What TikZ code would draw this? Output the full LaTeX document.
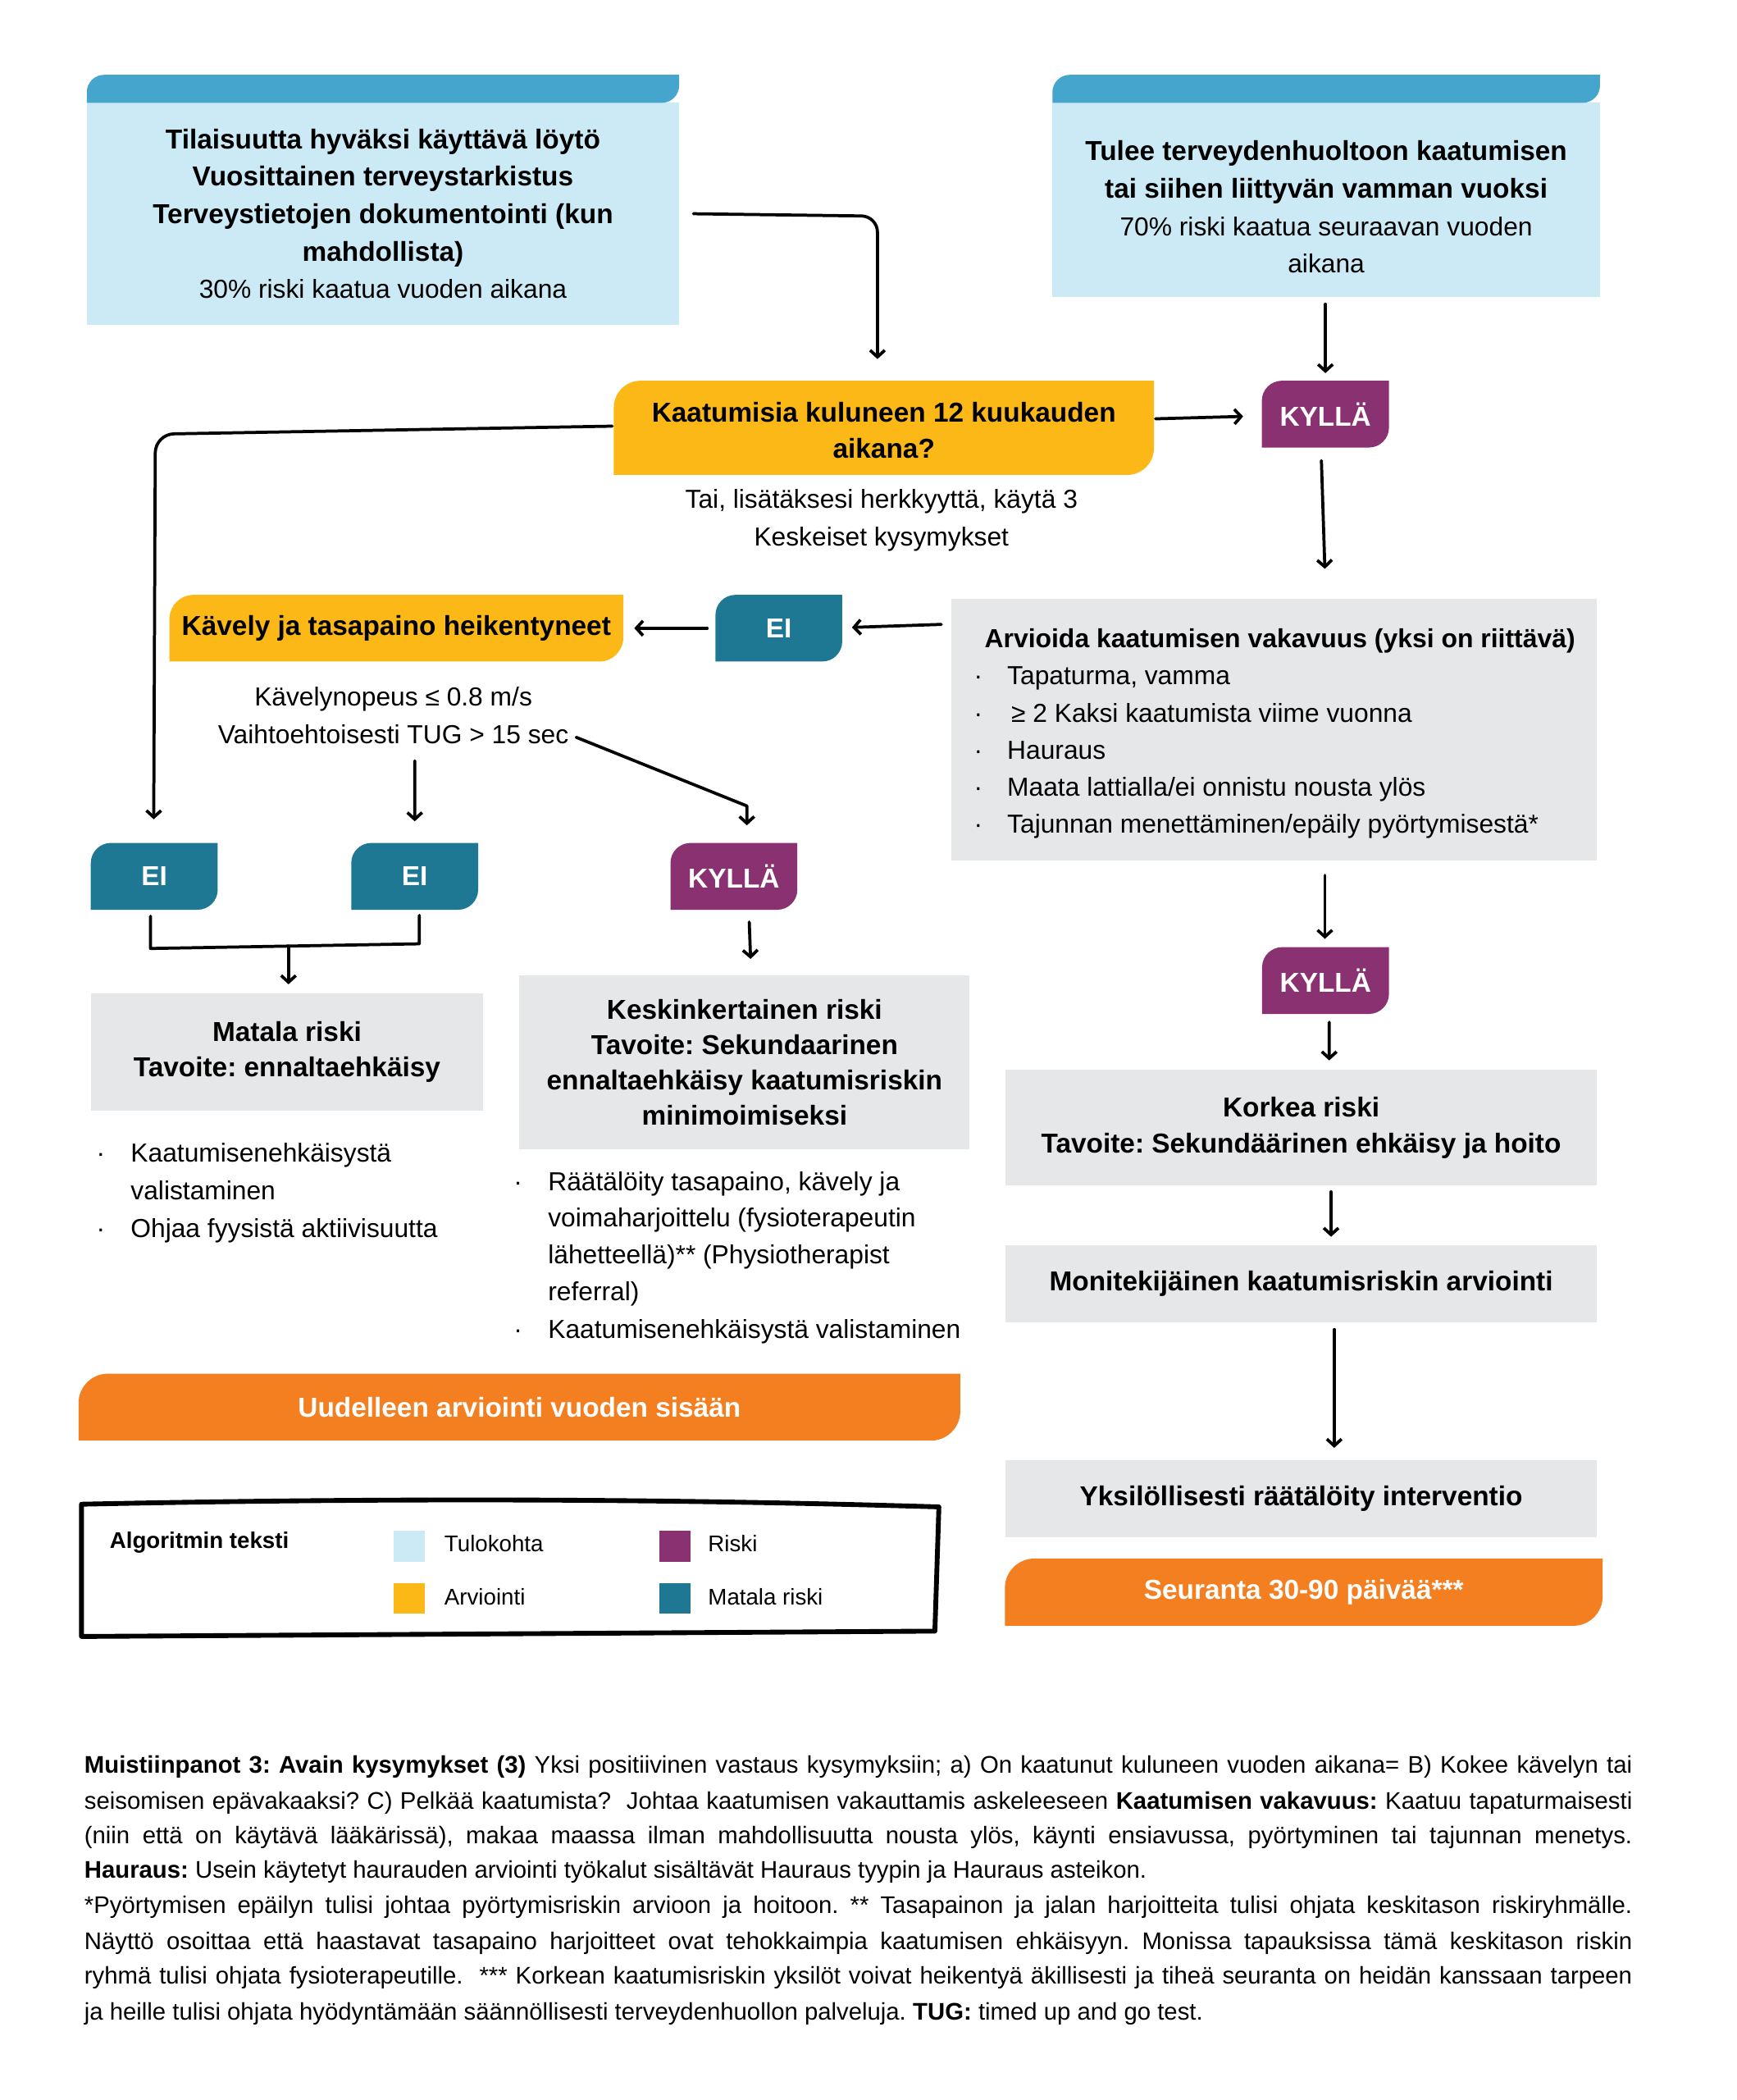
\documentclass[tikz,border=0pt]{standalone}
\usepackage{fontspec}
\setmainfont{Liberation Sans}
\usetikzlibrary{arrows.meta,calc}
\definecolor{tabblue}{HTML}{45A5CC}
\definecolor{lblue}{HTML}{CCEAF5}
\definecolor{ylw}{HTML}{FBB817}
\definecolor{purp}{HTML}{8A3271}
\definecolor{tealc}{HTML}{1F7893}
\definecolor{grayc}{HTML}{E6E7E8}
\definecolor{orng}{HTML}{F47F20}
\frenchspacing
% leaf shape: x1 y1(top) x2 y2(bottom) radius colour ; rounded top-left and bottom-right
\newcommand\leaf[6]{\fill[#6] (#1,#4) -- (#1,#2+#5) .. controls (#1,#2+0.448*#5) and (#1+0.448*#5,#2) .. (#1+#5,#2) -- (#3,#2) -- (#3,#4-#5) .. controls (#3,#4-0.448*#5) and (#3-0.448*#5,#4) .. (#3-#5,#4) -- cycle;}
\newcommand\fbx{\fontsize{20.5}{28}\selectfont\bfseries}
\newcommand\frx{\fontsize{19.5}{28}\selectfont\mdseries}
\newcommand\fnx{\fontsize{18}{26}\selectfont}
\newcommand\dotb{·}
\tikzset{
  arr/.style={line width=2.3pt, line cap=round, line join=round, -{Straight Barb[length=5pt,width=11pt]}},
  ln/.style={line width=2.3pt, line cap=round, line join=round},
  bx/.style={inner sep=0pt, align=center, text=black},
  item/.style={anchor=base west, inner sep=0pt, font=\frx},
  note/.style={anchor=base west, inner sep=0pt, font=\fnx},
  leg/.style={anchor=base west, inner sep=0pt, font=\fontsize{17}{20}\selectfont},
}
\begin{document}
\begin{tikzpicture}[x=1pt,y=-1pt]
\fill[white] (0,0) rectangle (1300,1572);
\useasboundingbox (0,0) rectangle (1300,1572);

% ---------- entry boxes ----------
\fill[lblue] (65,77) rectangle (508.5,243);
\leaf{65}{56}{508.5}{77}{13}{tabblue}
\node[bx, minimum width=443.5pt, minimum height=166pt, font=\fbx] (in1) at (286.75,160)
  {Tilaisuutta hyväksi käyttävä löytö\\Vuosittainen terveystarkistus\\Terveystietojen dokumentointi (kun\\mahdollista)\\\frx 30\% riski kaatua vuoden aikana};

\fill[lblue] (788,77) rectangle (1198,222.5);
\leaf{788}{56}{1198}{77}{13}{tabblue}
\node[bx, minimum width=410pt, minimum height=135pt, font=\fbx] (in2) at (993,155)
  {Tulee terveydenhuoltoon kaatumisen\\tai siihen liittyvän vamman vuoksi\\\frx 70\% riski kaatua seuraavan vuoden\\\frx aikana};

% ---------- question 1 ----------
\leaf{459.6}{285}{864}{355.5}{20}{ylw}
\node[bx, minimum width=404.4pt, minimum height=70.5pt, font=\fontsize{20.5}{27.2}\selectfont\bfseries] (q1) at (661.8,322) {Kaatumisia kuluneen 12 kuukauden\\aikana?};
\node[bx, font=\fontsize{19.5}{28.5}\selectfont] (cap1) at (660,389.5) {Tai, lisätäksesi herkkyyttä, käytä 3\\Keskeiset kysymykset};

\leaf{944.8}{285}{1040}{335}{15}{purp}
\node[bx, text=white, minimum width=95.2pt, minimum height=50pt, font=\fbx] (y1) at (992.4,310) {KYLLÄ};

% ---------- severity box ----------
\node[inner sep=0pt, fill=grayc, minimum width=483.5pt, minimum height=196.4pt] (sev) at (953.75,546.2) {};
\node[item, font=\fontsize{19.6}{28}\selectfont\bfseries] (sevt) at (737,485) {Arvioida kaatumisen vakavuus (yksi on riittävä)};
\node[item] (sb1) at (729,512.5) {\dotb};
\node[item] (si1) at (754,512.5) {Tapaturma, vamma};
\node[item] (sb2) at (729,540.5) {\dotb};
\node[item] (si2) at (757,540.5) {≥ 2 Kaksi kaatumista viime vuonna};
\node[item] (sb3) at (729,568) {\dotb};
\node[item] (si3) at (754,568) {Hauraus};
\node[item] (sb4) at (729,596) {\dotb};
\node[item] (si4) at (754,596) {Maata lattialla/ei onnistu nousta ylös};
\node[item] (sb5) at (729,623.5) {\dotb};
\node[item] (si5) at (754,623.5) {Tajunnan menettäminen/epäily pyörtymisestä*};

% ---------- EI and gait ----------
\leaf{535.7}{445.3}{630.6}{495.2}{15}{tealc}
\node[bx, text=white, minimum width=94.9pt, minimum height=49.9pt, font=\fbx] (e1) at (583.15,470.25) {EI};
\leaf{126.9}{445.3}{466.7}{495.2}{18}{ylw}
\node[bx, minimum width=339.8pt, minimum height=49.9pt, font=\fbx] (q2) at (296.8,470.25) {Kävely ja tasapaino heikentyneet};
\node[bx, font=\fontsize{19.5}{28}\selectfont] (cap2) at (294.5,535.5) {Kävelynopeus ≤ 0.8 m/s\\Vaihtoehtoisesti TUG > 15 sec};

\leaf{68}{631}{163}{681}{15}{tealc}
\node[bx, text=white, minimum width=95pt, minimum height=50pt, font=\fbx] (e2) at (115.5,656) {EI};
\leaf{263}{631}{358}{681}{15}{tealc}
\node[bx, text=white, minimum width=95pt, minimum height=50pt, font=\fbx] (e3) at (310.5,656) {EI};
\leaf{502}{631}{597}{681}{15}{purp}
\node[bx, text=white, minimum width=95pt, minimum height=50pt, font=\fbx] (y2) at (549.5,656) {KYLLÄ};

% ---------- risk boxes ----------
\node[bx, fill=grayc, minimum width=293.8pt, minimum height=88.1pt, font=\fontsize{20.5}{26.6}\selectfont\bfseries] (low) at (214.9,787.45) {Matala riski\\Tavoite: ennaltaehkäisy};
\node[bx, fill=grayc, minimum width=337pt, minimum height=130.5pt, font=\fontsize{20.5}{26.4}\selectfont\bfseries] (mid) at (557.5,795.25) {Keskinkertainen riski\\Tavoite: Sekundaarinen\\ennaltaehkäisy kaatumisriskin\\minimoimiseksi};

\node[item] (lb1) at (72,870) {\dotb};
\node[item] (li1) at (97.7,870) {Kaatumisenehkäisystä};
\node[item] (li1b) at (97.7,898) {valistaminen};
\node[item] (lb2) at (72,926) {\dotb};
\node[item] (li2) at (97.7,926) {Ohjaa fyysistä aktiivisuutta};

\node[item] (mb1) at (384.5,891) {\dotb};
\node[item] (mi1) at (410.2,891) {Räätälöity tasapaino, kävely ja};
\node[item] (mi1b) at (410.2,918.5) {voimaharjoittelu (fysioterapeutin};
\node[item] (mi1c) at (410.2,946) {lähetteellä)** (Physiotherapist};
\node[item] (mi1d) at (410.2,973.5) {referral)};
\node[item] (mb2) at (384.5,1002) {\dotb};
\node[item] (mi2) at (410.2,1002) {Kaatumisenehkäisystä valistaminen};

\leaf{58.8}{1028.3}{719}{1078.4}{22}{orng}
\node[bx, text=white, minimum width=660.2pt, minimum height=50.1pt, font=\fbx] (re) at (388.9,1053.35) {Uudelleen arviointi vuoden sisään};

% ---------- right column ----------
\leaf{945}{709}{1040}{759}{15}{purp}
\node[bx, text=white, minimum width=95pt, minimum height=50pt, font=\fbx] (y3) at (992.5,734) {KYLLÄ};
\node[bx, fill=grayc, minimum width=442.5pt, minimum height=86.7pt, font=\fontsize{20.5}{27}\selectfont\bfseries] (high) at (974.25,844.15) {Korkea riski\\Tavoite: Sekundäärinen ehkäisy ja hoito};
\node[bx, fill=grayc, minimum width=442.5pt, minimum height=58pt, font=\fbx] (multi) at (974.25,961) {Monitekijäinen kaatumisriskin arviointi};
\node[bx, fill=grayc, minimum width=442.5pt, minimum height=57.6pt, font=\fbx] (indiv) at (974.25,1121.8) {Yksilöllisesti räätälöity interventio};
\leaf{752.4}{1166.7}{1200}{1217}{22}{orng}
\node[bx, text=white, minimum width=447.6pt, minimum height=50.3pt, font=\fbx] (follow) at (976.2,1191.85) {Seuranta 30-90 päivää***};

% ---------- connectors ----------
\draw[arr, rounded corners=12pt] ([xshift=10.5pt]in1.east) -- (657,161.8) -- ([xshift=-4.8pt,yshift=17.8pt]q1.north);
\draw[arr] ([xshift=-0.6pt,yshift=-5pt]in2.south) -- ([yshift=5.5pt]y1.north);
\draw[arr] ([xshift=1pt,yshift=8.5pt]q1.east) -- ([xshift=-13.8pt,yshift=-1.7pt]y1.west);
\draw[arr] ([xshift=-3pt,yshift=-9.6pt]y1.south) -- ([xshift=38.25pt,yshift=22pt]sev.north);
\draw[arr] ([xshift=-7pt,yshift=-19.6pt]sev.north west) -- ([xshift=7.1pt,yshift=0.6pt]e1.east);
\draw[arr] ([xshift=-6pt]e1.west) -- ([xshift=8pt]q2.east);
\draw[arr, rounded corners=14pt] ([xshift=-1pt,yshift=3pt]q1.west) -- (116.3,325) -- ([xshift=-0.4pt,yshift=17.5pt]e2.north);
\coordinate (c2a) at (310.6,569.5);
\coordinate (c2b) at (431.4,551.9);
\draw[arr] (c2a) -- ([yshift=16pt]e3.north);
\draw[arr] (c2b) -- (559.2,603.3) -- ([xshift=9.7pt,yshift=13pt]y2.north);
\draw[ln] ([xshift=-2.8pt,yshift=-4.6pt]e2.south) -- (112.7,710) -- (314,706.5) -- ([xshift=3.5pt,yshift=-4pt]e3.south);
\coordinate (jb) at (216,708.3);
\draw[arr] (jb) -- ([xshift=1.1pt,yshift=6.4pt]low.north);
\draw[arr] ([xshift=11.5pt,yshift=-9pt]y2.south) -- ([xshift=4.5pt,yshift=12pt]mid.north);
\draw[arr] ([xshift=38.25pt,yshift=-10.6pt]sev.south) -- ([xshift=-0.5pt,yshift=6pt]y3.north);
\draw[arr] ([xshift=2.8pt,yshift=-6pt]y3.south) -- ([xshift=21pt,yshift=6.8pt]high.north);
\draw[arr] ([xshift=22.4pt,yshift=-4.5pt]high.south) -- ([xshift=22.4pt,yshift=6pt]multi.north);
\draw[arr] ([xshift=24.75pt,yshift=-5pt]multi.south) -- ([xshift=24.75pt,yshift=9pt]indiv.north);

% ---------- legend ----------
\draw[line width=3.6pt, line join=round] (61,1126) .. controls (300,1121) and (500,1122) .. (703,1128) -- (700,1221) -- (61,1225) -- cycle;
\node[leg, font=\fontsize{17}{20}\selectfont\bfseries] (legt) at (82,1159) {Algoritmin teksti};
\node[inner sep=0pt, fill=lblue, minimum width=23pt, minimum height=23pt] (sw1) at (306.5,1157.5) {};
\node[inner sep=0pt, fill=ylw, minimum width=23pt, minimum height=23pt] (sw2) at (306.5,1196.5) {};
\node[inner sep=0pt, fill=purp, minimum width=23pt, minimum height=23pt] (sw3) at (505.5,1157.5) {};
\node[inner sep=0pt, fill=tealc, minimum width=23pt, minimum height=23pt] (sw4) at (505.5,1196.5) {};
\node[leg] (lt1) at (332.6,1161.5) {Tulokohta};
\node[leg] (lt2) at (332.6,1201.5) {Arviointi};
\node[leg] (lt3) at (530,1161.5) {Riski};
\node[leg] (lt4) at (530,1201.5) {Matala riski};

% ---------- notes ----------
\node[note] (n1) at (63,1327) {\hbox to 1159pt{\textbf{Muistiinpanot 3: Avain kysymykset (3)} Yksi positiivinen vastaus kysymyksiin; a) On kaatunut kuluneen vuoden aikana= B) Kokee kävelyn tai}};
\node[note] (n2) at (63,1354) {\hbox to 1159pt{seisomisen epävakaaksi? C) Pelkää kaatumista? \ Johtaa kaatumisen vakauttamis askeleeseen \textbf{Kaatumisen vakavuus:} Kaatuu tapaturmaisesti}};
\node[note] (n3) at (63,1380) {\hbox to 1159pt{(niin että on käytävä lääkärissä), makaa maassa ilman mahdollisuutta nousta ylös, käynti ensiavussa, pyörtyminen tai tajunnan menetys.}};
\node[note] (n4) at (63,1406) {\textbf{Hauraus:} Usein käytetyt haurauden arviointi työkalut sisältävät Hauraus tyypin ja Hauraus asteikon.};
\node[note] (n5) at (63,1432) {\hbox to 1159pt{*Pyörtymisen epäilyn tulisi johtaa pyörtymisriskin arvioon ja hoitoon. ** Tasapainon ja jalan harjoitteita tulisi ohjata keskitason riskiryhmälle.}};
\node[note] (n6) at (63,1459) {\hbox to 1159pt{Näyttö osoittaa että haastavat tasapaino harjoitteet ovat tehokkaimpia kaatumisen ehkäisyyn. Monissa tapauksissa tämä keskitason riskin}};
\node[note] (n7) at (63,1485) {\hbox to 1159pt{ryhmä tulisi ohjata fysioterapeutille. \ *** Korkean kaatumisriskin yksilöt voivat heikentyä äkillisesti ja tiheä seuranta on heidän kanssaan tarpeen}};
\node[note] (n8) at (63,1512) {ja heille tulisi ohjata hyödyntämään säännöllisesti terveydenhuollon palveluja. \textbf{TUG:} timed up and go test.};
\end{tikzpicture}
\end{document}
